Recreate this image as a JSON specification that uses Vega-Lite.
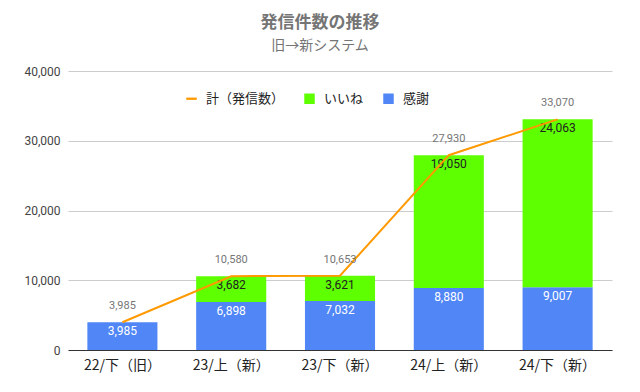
{
  "$schema": "https://vega.github.io/schema/vega-lite/v6.json",
  "width": 544,
  "height": 279,
  "autosize": {"type": "none"},
  "padding": {"left": 68, "top": 71, "right": 28, "bottom": 42},
  "background": "white",
  "config": {
    "font": "Roboto, Noto Sans CJK JP",
    "view": {"stroke": null}
  },
  "title": {
    "text": "発信件数の推移",
    "subtitle": "旧→新システム",
    "anchor": "middle",
    "dx": -20,
    "offset": 11,
    "fontSize": 17,
    "fontWeight": "bold",
    "color": "#757575",
    "subtitleFontSize": 14,
    "subtitleColor": "#757575",
    "subtitlePadding": 7,
    "font": "Noto Sans CJK JP",
    "subtitleFont": "Noto Sans CJK JP"
  },
  "datasets": {
    "parts": [
      {"period": "22/下（旧）", "series": "感謝", "value": 3985, "order": 1},
      {"period": "23/上（新）", "series": "感謝", "value": 6898, "order": 1},
      {"period": "23/上（新）", "series": "いいね", "value": 3682, "order": 2},
      {"period": "23/下（新）", "series": "感謝", "value": 7032, "order": 1},
      {"period": "23/下（新）", "series": "いいね", "value": 3621, "order": 2},
      {"period": "24/上（新）", "series": "感謝", "value": 8880, "order": 1},
      {"period": "24/上（新）", "series": "いいね", "value": 19050, "order": 2},
      {"period": "24/下（新）", "series": "感謝", "value": 9007, "order": 1},
      {"period": "24/下（新）", "series": "いいね", "value": 24063, "order": 2}
    ],
    "totals": [
      {"period": "22/下（旧）", "total": 3985},
      {"period": "23/上（新）", "total": 10580},
      {"period": "23/下（新）", "total": 10653},
      {"period": "24/上（新）", "total": 27930},
      {"period": "24/下（新）", "total": 33070}
    ]
  },
  "encoding": {
    "x": {
      "field": "period",
      "type": "nominal",
      "sort": null,
      "scale": {"paddingInner": 0.356, "paddingOuter": 0.178},
      "axis": {
        "title": null,
        "labelAngle": 0,
        "ticks": false,
        "labelFontSize": 14,
        "labelColor": "#222222",
        "labelPadding": 8,
        "domainColor": "#333333",
        "labelFont": "Noto Sans CJK JP"
      }
    }
  },
  "layer": [
    {
      "data": {"name": "parts"},
      "mark": {"type": "bar"},
      "encoding": {
        "y": {
          "field": "value",
          "type": "quantitative",
          "stack": "zero",
          "scale": {"domain": [0, 40000]},
          "axis": {
            "title": null,
            "values": [0, 10000, 20000, 30000, 40000],
            "labelExpr": "datum.value === 0 ? '0' : floor(datum.value / 1000) + ',000'",
            "ticks": false,
            "domain": false,
            "labelFontSize": 12,
            "labelColor": "#444444",
            "labelPadding": 8,
            "gridColor": "#cccccc"
          }
        },
        "color": {
          "field": "series",
          "type": "nominal",
          "scale": {
            "domain": ["計（発信数）", "いいね", "感謝"],
            "range": ["#ff9900", "#5eff00", "#5086f6"]
          },
          "legend": {
            "title": null,
            "orient": "none",
            "legendX": 117,
            "legendY": 21,
            "direction": "horizontal",
            "labelFontSize": 13,
            "labelColor": "#222222",
            "labelFont": "Noto Sans CJK JP",
            "symbolSize": 110,
            "symbolStrokeWidth": 0,
            "columnPadding": 18,
            "labelOffset": 8,
            "encode": {
              "symbols": {
                "update": {
                  "shape": {"signal": "datum.value === '計（発信数）' ? 'M-1,-0.22H1V0.22H-1Z' : 'square'"}
                }
              }
            }
          }
        },
        "order": {"field": "order", "type": "quantitative"}
      }
    },
    {
      "data": {"name": "parts"},
      "mark": {"type": "text", "baseline": "top", "dy": 4, "fontSize": 12},
      "encoding": {
        "y": {"field": "value", "type": "quantitative", "stack": "zero"},
        "detail": {"field": "series"},
        "order": {"field": "order", "type": "quantitative"},
        "text": {"field": "value", "type": "quantitative", "format": ","},
        "fill": {
          "condition": {"test": "datum.series === '感謝'", "value": "#ffffff"},
          "value": "#222222"
        }
      }
    },
    {
      "data": {"name": "totals"},
      "mark": {"type": "line", "strokeWidth": 2},
      "encoding": {
        "y": {"field": "total", "type": "quantitative"},
        "color": {"datum": "計（発信数）"}
      }
    },
    {
      "data": {"name": "totals"},
      "mark": {"type": "text", "dy": -16, "fontSize": 11, "color": "#757575"},
      "encoding": {
        "y": {"field": "total", "type": "quantitative"},
        "text": {"field": "total", "type": "quantitative", "format": ","}
      }
    }
  ]
}
